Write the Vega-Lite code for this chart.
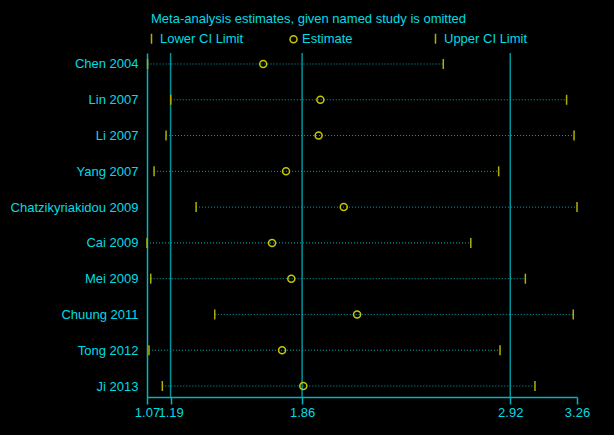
{
  "$schema": "https://vega.github.io/schema/vega-lite/v6.json",
  "width": 430,
  "height": 344,
  "autosize": "none",
  "padding": {"left": 147, "top": 53, "right": 37, "bottom": 38},
  "background": "black",
  "title": {
    "text": "Meta-analysis estimates, given named study is omitted",
    "anchor": "start",
    "frame": "group",
    "dx": 4,
    "offset": 6,
    "font": "Liberation Sans",
    "fontSize": 13,
    "fontWeight": "normal",
    "color": "#00dce6"
  },
  "config": {
    "view": {"stroke": null},
    "font": "Liberation Sans",
    "axis": {
      "grid": false,
      "domainColor": "#00b4c0",
      "domainWidth": 1.5,
      "tickColor": "#00b4c0",
      "tickWidth": 1.5,
      "labelColor": "#00dce6",
      "labelFont": "Liberation Sans",
      "labelFontSize": 13,
      "title": null
    }
  },
  "data": {
    "values": [
      {"study": "Chen 2004", "lower": 1.073, "est": 1.662, "upper": 2.579},
      {"study": "Lin 2007", "lower": 1.191, "est": 1.953, "upper": 3.207},
      {"study": "Li 2007", "lower": 1.167, "est": 1.944, "upper": 3.245},
      {"study": "Yang 2007", "lower": 1.106, "est": 1.778, "upper": 2.861},
      {"study": "Chatzikyriakidou 2009", "lower": 1.32, "est": 2.072, "upper": 3.26},
      {"study": "Cai 2009", "lower": 1.07, "est": 1.707, "upper": 2.719},
      {"study": "Mei 2009", "lower": 1.089, "est": 1.805, "upper": 2.997},
      {"study": "Chuung 2011", "lower": 1.415, "est": 2.14, "upper": 3.241},
      {"study": "Tong 2012", "lower": 1.08, "est": 1.758, "upper": 2.868},
      {"study": "Ji 2013", "lower": 1.148, "est": 1.866, "upper": 3.046}
    ]
  },
  "layer": [
    {
      "data": {"values": [{"xline": 1.19}, {"xline": 1.86}, {"xline": 2.92}]},
      "mark": {"type": "rule", "color": "#00959c", "strokeWidth": 1.5},
      "encoding": {
        "x": {
          "field": "xline",
          "type": "quantitative",
          "scale": {"domain": [1.07, 3.26], "nice": false, "zero": false},
          "axis": {"values": [1.07, 1.19, 1.86, 2.92, 3.26], "labelFlush": false, "labelOverlap": false, "tickSize": 7, "labelPadding": 2, "format": ".2f"}
        }
      }
    },
    {
      "mark": {"type": "rule", "color": "#00a8b0", "strokeWidth": 1, "strokeDash": [1, 2]},
      "encoding": {
        "y": {
          "field": "study",
          "type": "ordinal",
          "sort": null,
          "scale": {"type": "point", "padding": 0.307},
          "axis": {"ticks": false, "labelPadding": 9}
        },
        "x": {
          "field": "lower",
          "type": "quantitative",
          "scale": {"domain": [1.07, 3.26], "nice": false, "zero": false},
          "axis": {"values": [1.07, 1.19, 1.86, 2.92, 3.26], "labelFlush": false, "labelOverlap": false, "tickSize": 7, "labelPadding": 2, "format": ".2f"}
        },
        "x2": {"field": "upper"}
      }
    },
    {
      "transform": [{"fold": ["lower", "est", "upper"], "as": ["type", "value"]}],
      "mark": {"type": "point", "filled": false, "strokeWidth": 1.5, "opacity": 1, "size": 100},
      "encoding": {
        "y": {
          "field": "study",
          "type": "ordinal",
          "sort": null,
          "scale": {"type": "point", "padding": 0.307},
          "axis": {"ticks": false, "labelPadding": 9}
        },
        "x": {
          "field": "value",
          "type": "quantitative",
          "scale": {"domain": [1.07, 3.26], "nice": false, "zero": false},
          "axis": {"values": [1.07, 1.19, 1.86, 2.92, 3.26], "labelFlush": false, "labelOverlap": false, "tickSize": 7, "labelPadding": 2, "format": ".2f"}
        },
        "shape": {
          "field": "type",
          "type": "nominal",
          "scale": {"domain": ["lower", "est", "upper"], "range": ["M0,-1L0,1", "M0.7,0A0.7,0.7 0 1,1 -0.7,0A0.7,0.7 0 1,1 0.7,0Z", "M0,-1L0,1"]},
          "legend": {
            "orient": "none",
            "legendX": -2,
            "legendY": -21,
            "direction": "horizontal",
            "columns": 3,
            "gridAlign": "all",
            "title": null,
            "padding": 0,
            "labelColor": "#00dce6",
            "labelFont": "Liberation Sans",
            "labelFontSize": 13,
            "labelOffset": 2,
            "columnPadding": 43,
            "symbolSize": 100,
            "symbolStrokeWidth": 1.5,
            "labelExpr": "datum.value == 'lower' ? 'Lower CI Limit' : datum.value == 'est' ? 'Estimate' : 'Upper CI Limit'"
          }
        },
        "color": {
          "field": "type",
          "type": "nominal",
          "scale": {"domain": ["lower", "est", "upper"], "range": ["#b0b000", "#c8c800", "#b0b000"]},
          "legend": {
            "orient": "none",
            "legendX": -2,
            "legendY": -21,
            "direction": "horizontal",
            "columns": 3,
            "gridAlign": "all",
            "title": null,
            "padding": 0,
            "labelColor": "#00dce6",
            "labelFont": "Liberation Sans",
            "labelFontSize": 13,
            "labelOffset": 2,
            "columnPadding": 43,
            "symbolSize": 100,
            "symbolStrokeWidth": 1.5,
            "labelExpr": "datum.value == 'lower' ? 'Lower CI Limit' : datum.value == 'est' ? 'Estimate' : 'Upper CI Limit'"
          }
        }
      }
    }
  ]
}
